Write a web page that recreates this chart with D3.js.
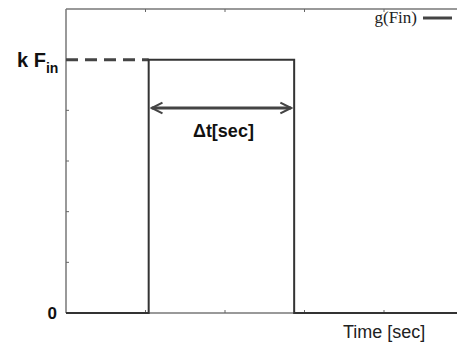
<!DOCTYPE html>
<html>
<head>
<meta charset="utf-8">
<script src="https://cdn.jsdelivr.net/npm/d3@7"></script>
<style>
  body { margin: 0; background: #fff; }
  svg { display: block; }
</style>
</head>
<body>
<svg id="chart" width="457" height="346"></svg>
<script>
// step signal g(Fin): time, level (level 5 = k F_in)
const stepTimes = [0, 1.04, 1.04, 2.87, 2.87, 5];
const stepLevels = [0, 0, 5, 5, 0, 0];
const xTicks = [1, 2, 3, 4];
const yTicks = [1, 2, 3, 4, 5];
const kLevel = 5;
const pulseStart = 1.04, pulseEnd = 2.87;

const margin = {top: 9, right: 0, bottom: 33, left: 66},
    width = 457 - margin.left - margin.right,
    height = 346 - margin.top - margin.bottom;

const svg = d3.select("#chart");
const g = svg.append("g").attr("transform", `translate(${margin.left},${margin.top})`);

const x = d3.scaleLinear().domain([0, 5]).range([0, 397.5]);
const y = d3.scaleLinear().domain([0, 6]).range([height, 0]);

// frame
g.append("line").attr("x1", 0).attr("x2", 0).attr("y1", 0).attr("y2", height)
    .attr("stroke", "#777").attr("stroke-width", 1.5);
g.append("line").attr("x1", 0).attr("x2", width).attr("y1", 0).attr("y2", 0)
    .attr("stroke", "#777").attr("stroke-width", 1.5);
g.append("line").attr("x1", 0).attr("x2", width).attr("y1", height).attr("y2", height)
    .attr("stroke", "#777").attr("stroke-width", 1.5);

// small ticks
g.selectAll(".yt").data(yTicks).join("line")
    .attr("x1", 0).attr("x2", 3).attr("y1", d => y(d)).attr("y2", d => y(d))
    .attr("stroke", "#666").attr("stroke-width", 1);
g.selectAll(".xtb").data(xTicks).join("line")
    .attr("x1", d => x(d)).attr("x2", d => x(d)).attr("y1", height).attr("y2", height - 3)
    .attr("stroke", "#666").attr("stroke-width", 1);
g.selectAll(".xtt").data(xTicks).join("line")
    .attr("x1", d => x(d)).attr("x2", d => x(d)).attr("y1", 0).attr("y2", 3)
    .attr("stroke", "#666").attr("stroke-width", 1);

// dashed level
g.append("line")
    .attr("x1", x(0)).attr("x2", x(pulseStart))
    .attr("y1", y(kLevel)).attr("y2", y(kLevel))
    .attr("stroke", "#444").attr("stroke-width", 3)
    .attr("stroke-dasharray", "12,7");

// step line
const line = d3.line().x((d, i) => x(stepTimes[i])).y(d => y(d));
g.append("path")
    .datum(stepLevels)
    .attr("fill", "none")
    .attr("stroke", "#333")
    .attr("stroke-width", 2)
    .attr("d", line);

// arrow
const defs = svg.append("defs");
defs.append("marker").attr("id", "ah").attr("viewBox", "0 0 10 10")
    .attr("refX", 9).attr("refY", 5).attr("markerWidth", 4.5).attr("markerHeight", 4.5)
    .attr("orient", "auto-start-reverse").attr("markerUnits", "strokeWidth")
    .append("path").attr("d", "M1,1 L9,5 L1,9").attr("fill", "none")
    .attr("stroke", "#444").attr("stroke-width", 1.6).attr("stroke-linejoin", "miter");
g.append("line")
    .attr("x1", x(pulseStart) + 3).attr("x2", x(pulseEnd) - 3)
    .attr("y1", 99).attr("y2", 99)
    .attr("stroke", "#444").attr("stroke-width", 3)
    .attr("marker-start", "url(#ah)").attr("marker-end", "url(#ah)");

g.append("text")
    .attr("x", (x(pulseStart) + x(pulseEnd)) / 2 + 2).attr("y", 128)
    .attr("text-anchor", "middle")
    .attr("font-family", "Liberation Sans, Arial, sans-serif")
    .attr("font-weight", "bold").attr("font-size", 18)
    .attr("fill", "#111")
    .text("Δt[sec]");

// y labels
const kt = svg.append("text")
    .attr("x", 17).attr("y", 67)
    .attr("font-family", "Liberation Sans, Arial, sans-serif")
    .attr("font-weight", "bold").attr("font-size", 20).attr("fill", "#111");
kt.append("tspan").text("k F");
kt.append("tspan").attr("font-size", 14).attr("dy", 6).text("in");

svg.append("text")
    .attr("x", 57).attr("y", margin.top + y(0) + 6)
    .attr("text-anchor", "end")
    .attr("font-family", "Liberation Sans, Arial, sans-serif")
    .attr("font-weight", "bold").attr("font-size", 17).attr("fill", "#111")
    .text("0");

// x label
svg.append("text")
    .attr("x", 343).attr("y", 338)
    .attr("font-family", "Liberation Sans, Arial, sans-serif")
    .attr("font-size", 18).attr("fill", "#222")
    .text("Time [sec]");

// legend
svg.append("text")
    .attr("x", 417).attr("y", 23)
    .attr("text-anchor", "end")
    .attr("font-family", "Liberation Serif, Times New Roman, serif")
    .attr("font-size", 17).attr("fill", "#222")
    .text("g(Fin)");
svg.append("line")
    .attr("x1", 423).attr("x2", 452).attr("y1", 18).attr("y2", 18)
    .attr("stroke", "#444").attr("stroke-width", 3);
</script>
</body>
</html>
